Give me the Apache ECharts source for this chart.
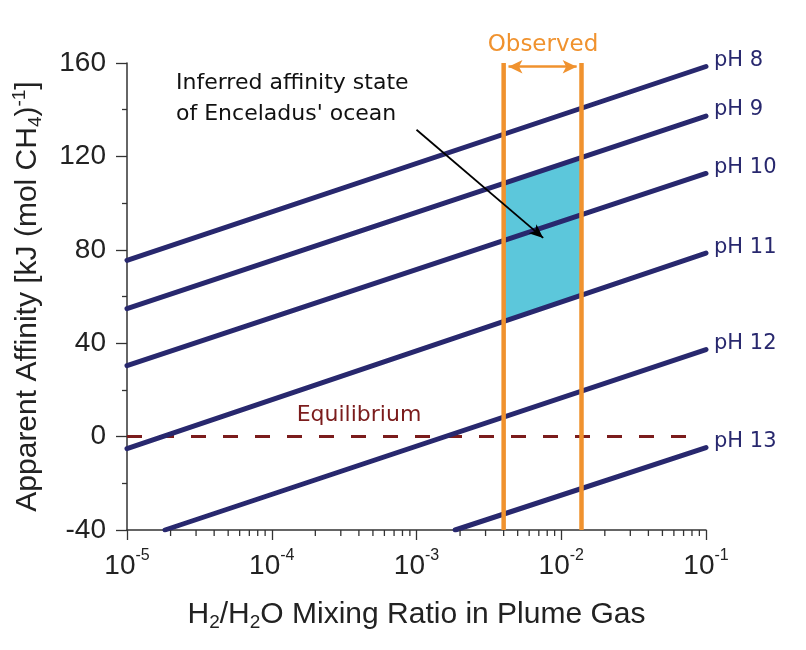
<!DOCTYPE html>
<html>
<head>
<meta charset="utf-8">
<script src="https://cdn.jsdelivr.net/npm/echarts@6/dist/echarts.min.js"></script>
<style>
  html, body { margin: 0; padding: 0; background: #fff; }
  #chart { width: 806px; height: 650px; }
</style>
</head>
<body>
<div id="chart"></div>
<script>
// pH lines: [x, affinity] endpoints
const phNames = ['pH 8', 'pH 9', 'pH 10', 'pH 11', 'pH 12', 'pH 13']
const phX = [
  [1e-5, 0.1],
  [1e-5, 0.1],
  [1e-5, 0.1],
  [1e-5, 0.1],
  [1.83e-5, 0.1],
  [1.85e-3, 0.1]
]
const phY = [
  [75.5, 158.5],
  [54.8, 137.3],
  [30.4, 112.7],
  [-5.2, 78.6],
  [-40, 37.3],
  [-40, -4.7]
]

// observed range of H2/H2O in the plume
const observedX = [0.004, 0.0138]
// inferred region (pH 9 .. pH 11 inside the observed range)
const fillX = [0.004, 0.0138, 0.0138, 0.004]
const fillY = [108.5, 118.5, 61, 49.5]

const equilibriumX = [1e-5, 0.09]
const equilibriumY = [0, 0]

// annotation arrow
const arrowFrom = [1.0e-3, 131.4]
const arrowTo = [7.5e-3, 85.1]

const decades = [-5, -4, -3, -2]

const navy = '#28286e'
const orange = '#f0922e'
const darkRed = '#7b1c1c'
const FONT = 'Liberation Sans, Arial, sans-serif'
const WIDE = 'DejaVu Sans, Verdana, sans-serif'

const minorTicks = []
decades.forEach(k => {
  for (let m = 2; m <= 9; m++) minorTicks.push([m * Math.pow(10, k), -40])
})

const chart = echarts.init(document.getElementById('chart'))

const series = []

// shaded region
series.push({
  type: 'custom',
  z: 1,
  data: [0],
  renderItem: function (params, api) {
    const pts = fillX.map((x, i) => api.coord([x, fillY[i]]))
    return {
      type: 'polygon',
      shape: { points: pts },
      style: { fill: '#5cc7db' }
    }
  }
})

// equilibrium line
series.push({
  type: 'line',
  z: 2,
  data: equilibriumX.map((x, i) => [x, equilibriumY[i]]),
  symbol: 'none',
  lineStyle: { color: darkRed, width: 3, type: [15, 17] },
  silent: true
})

phNames.forEach((name, i) => {
  series.push({
    name: name,
    type: 'line',
    z: 3,
    data: phX[i].map((x, j) => [x, phY[i][j]]),
    symbol: 'none',
    lineStyle: { color: navy, width: 5, cap: 'round' },
    endLabel: {
      show: true,
      formatter: name,
      color: navy,
      fontSize: 21,
      fontFamily: WIDE,
      offset: [0, -6]
    },
    silent: true
  })
})

observedX.forEach((x, i) => {
  series.push({
    type: 'line',
    z: 4,
    data: [[x, -40], [x, 160]],
    symbol: 'none',
    lineStyle: { color: orange, width: 4.5 },
    silent: true,
    markLine: i === 0 ? {
      silent: true,
      symbol: ['arrow', 'arrow'],
      symbolSize: [10, 14],
      lineStyle: { color: orange, width: 2.5, type: 'solid' },
      label: { show: false },
      data: [[{ coord: [observedX[0] * 1.08, 158.4] }, { coord: [observedX[1] / 1.08, 158.4] }]]
    } : undefined
  })
})

// annotation arrow + minor ticks on the x axis
series.push({
  type: 'custom',
  z: 5,
  clip: false,
  data: minorTicks,
  renderItem: function (params, api) {
    const p = api.coord([api.value(0), api.value(1)])
    return {
      type: 'line',
      shape: { x1: p[0], y1: p[1], x2: p[0], y2: p[1] + 6 },
      style: { stroke: '#333', lineWidth: 1.3 }
    }
  },
  markLine: {
    silent: true,
    symbol: ['none', 'arrow'],
    symbolSize: [9, 14],
    lineStyle: { color: '#000', width: 1.8, type: 'solid' },
    label: { show: false },
    data: [[{ coord: arrowFrom }, { coord: arrowTo }]]
  }
})

const option = {
  animation: false,
  backgroundColor: '#fff',
  textStyle: { fontFamily: FONT },
  grid: { left: 127, right: 100, top: 63, bottom: 120 },
  xAxis: {
    type: 'log',
    min: 1e-5,
    max: 1e-1,
    logBase: 10,
    name: 'H{sub|2}/H{sub|2}O Mixing Ratio in Plume Gas',
    nameLocation: 'middle',
    nameGap: 67,
    nameTextStyle: {
      fontSize: 30,
      color: '#222',
      fontFamily: FONT,
      rich: {
        sub: { fontSize: 19, verticalAlign: 'bottom', padding: [16, 0, 0, 0], fontFamily: FONT, color: '#222' }
      }
    },
    axisLine: { onZero: false, lineStyle: { color: '#333', width: 1.5 } },
    axisTick: { show: true, length: 10, lineStyle: { color: '#333', width: 1.3 } },
    splitLine: { show: false },
    minorTick: { show: false },
    axisLabel: {
      margin: 18,
      color: '#222',
      formatter: function (v) {
        return '{n|10}{e|' + Math.round(Math.log10(v)) + '}'
      },
      rich: {
        n: { fontSize: 28, fontFamily: FONT, color: '#222', lineHeight: 32, verticalAlign: 'bottom' },
        e: { fontSize: 16, fontFamily: FONT, color: '#222', verticalAlign: 'top', lineHeight: 32, padding: [0, 0, 12, 0] }
      }
    }
  },
  yAxis: {
    type: 'value',
    min: -40,
    max: 160,
    interval: 40,
    name: 'Apparent Affinity [kJ (mol CH{sub|4}){sup|-1}]',
    nameLocation: 'middle',
    nameGap: 82,
    nameRotate: 90,
    nameTextStyle: {
      fontSize: 30,
      color: '#222',
      fontFamily: FONT,
      rich: {
        sub: { fontSize: 19, verticalAlign: 'bottom', padding: [16, 0, 0, 0], fontFamily: FONT, color: '#222' },
        sup: { fontSize: 19, verticalAlign: 'top', padding: [0, 0, 16, 0], fontFamily: FONT, color: '#222' }
      }
    },
    axisLine: { show: true, lineStyle: { color: '#333', width: 1.5 } },
    axisTick: { show: true, length: 11, lineStyle: { color: '#333', width: 1.3 } },
    minorTick: { show: true, splitNumber: 2, length: 5, lineStyle: { color: '#333', width: 1.3 } },
    splitLine: { show: false },
    axisLabel: { fontSize: 28, color: '#222', margin: 21, fontFamily: FONT }
  },
  graphic: [
    {
      type: 'text',
      left: 176,
      top: 68,
      style: {
        text: 'Inferred affinity state\nof Enceladus\' ocean',
        lineHeight: 31,
        fill: '#111',
        font: '22px ' + WIDE
      }
    },
    {
      type: 'text',
      x: 543,
      y: 45,
      style: {
        text: 'Observed',
        fill: orange,
        font: '23px ' + WIDE,
        align: 'center',
        verticalAlign: 'middle'
      }
    },
    {
      type: 'text',
      x: 359,
      y: 415,
      style: {
        text: 'Equilibrium',
        fill: darkRed,
        font: '22px ' + WIDE,
        align: 'center',
        verticalAlign: 'middle'
      }
    }
  ],
  series: series
}

chart.setOption(option)
</script>
</body>
</html>
